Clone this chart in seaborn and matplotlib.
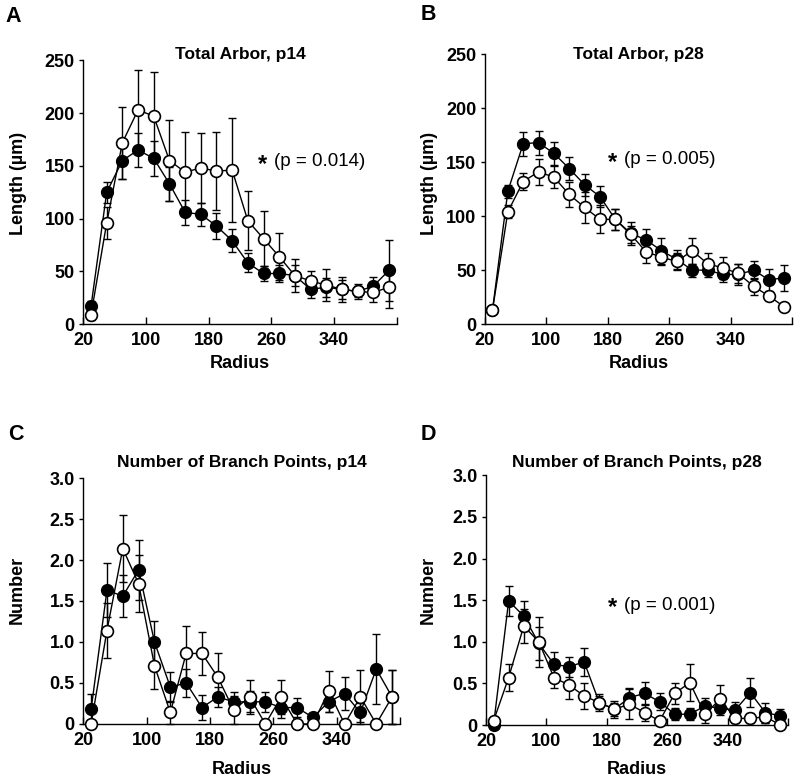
import matplotlib
matplotlib.use("Agg")
import matplotlib.pyplot as plt
import seaborn as sns
import pandas as pd
from matplotlib.ticker import FixedLocator, FixedFormatter

sns.set_style("ticks")
plt.rcParams['font.family'] = ['Liberation Sans', 'DejaVu Sans']
plt.rcParams['text.color'] = 'black'
plt.rcParams['axes.labelcolor'] = 'black'
plt.rcParams['xtick.color'] = 'black'
plt.rcParams['ytick.color'] = 'black'
plt.rcParams['axes.edgecolor'] = 'black'

radius = [30, 50, 70, 90, 110, 130, 150, 170, 190, 210,
          230, 250, 270, 290, 310, 330, 350, 370, 390, 410]

# Panel A: Total Arbor, p14
a_filled = [17, 125, 155, 165, 157, 133, 106, 104, 93, 79, 58, 48, 48, 46, 33, 35, 33, 31, 36, 51]
a_filled_err = [5, 10, 17, 16, 17, 16, 12, 11, 12, 11, 9, 7, 8, 10, 8, 9, 9, 5, 9, 29]
a_open = [9, 96, 172, 203, 197, 155, 144, 148, 145, 146, 98, 81, 64, 46, 41, 37, 33, 31, 30, 35]
a_open_err = [5, 15, 34, 38, 42, 38, 38, 33, 37, 49, 28, 26, 22, 16, 9, 15, 12, 7, 9, 20]

# Panel B: Total Arbor, p28
b_filled = [13, 123, 167, 168, 158, 144, 129, 118, 97, 84, 78, 68, 60, 50, 50, 46, 46, 50, 41, 43]
b_filled_err = [2, 6, 11, 11, 11, 11, 10, 10, 10, 11, 10, 12, 9, 6, 6, 7, 10, 8, 10, 12]
b_open = [13, 104, 132, 141, 136, 120, 108, 97, 97, 83, 67, 62, 58, 68, 56, 52, 47, 35, 26, 16]
b_open_err = [2, 6, 8, 12, 10, 12, 14, 13, 10, 8, 10, 7, 8, 12, 10, 10, 9, 8, 4, 3]

# Panel C: Number of Branch Points, p14
c_filled = [0.18, 1.63, 1.56, 1.88, 1.00, 0.45, 0.50, 0.20, 0.33, 0.27,
            0.27, 0.27, 0.20, 0.20, 0.08, 0.27, 0.37, 0.14, 0.67, 0.33]
c_filled_err = [0.18, 0.33, 0.26, 0.37, 0.26, 0.18, 0.17, 0.15, 0.12, 0.12,
                0.13, 0.12, 0.13, 0.12, 0.05, 0.12, 0.20, 0.12, 0.43, 0.33]
c_open = [0.00, 1.14, 2.14, 1.71, 0.71, 0.14, 0.86, 0.86, 0.57, 0.17,
          0.33, 0.00, 0.33, 0.00, 0.00, 0.40, 0.00, 0.33, 0.00, 0.33]
c_open_err = [0.00, 0.33, 0.41, 0.35, 0.28, 0.14, 0.33, 0.26, 0.30, 0.17,
              0.21, 0.00, 0.21, 0.00, 0.00, 0.25, 0.00, 0.33, 0.00, 0.33]

# Panel D: Number of Branch Points, p28
d_filled = [0.00, 1.49, 1.31, 0.98, 0.73, 0.70, 0.76, 0.27, 0.19, 0.33,
            0.38, 0.28, 0.13, 0.13, 0.23, 0.20, 0.18, 0.39, 0.15, 0.11]
d_filled_err = [0.00, 0.18, 0.18, 0.20, 0.15, 0.12, 0.17, 0.10, 0.10, 0.12,
                0.14, 0.10, 0.07, 0.07, 0.10, 0.08, 0.10, 0.17, 0.12, 0.08]
d_open = [0.05, 0.57, 1.19, 1.00, 0.57, 0.48, 0.35, 0.27, 0.19, 0.25,
          0.15, 0.05, 0.38, 0.51, 0.13, 0.31, 0.08, 0.08, 0.10, 0.00]
d_open_err = [0.00, 0.16, 0.20, 0.30, 0.12, 0.17, 0.16, 0.08, 0.08, 0.18,
              0.10, 0.05, 0.13, 0.22, 0.10, 0.17, 0.05, 0.06, 0.07, 0.00]

x_ticks = [20, 100, 180, 260, 340, 420]
x_ticklabels = ['20', '100', '180', '260', '340', '']
len_ticks = [0, 50, 100, 150, 200, 250]
len_ticklabels = ['0', '50', '100', '150', '200', '250']
num_ticks = [0, 0.5, 1.0, 1.5, 2.0, 2.5, 3.0]
num_ticklabels = ['0', '0.5', '1.0', '1.5', '2.0', '2.5', '3.0']

fig = plt.figure(figsize=(8.0, 7.83), dpi=100)

panels = [
    dict(rect=[0.104, 0.586, 0.392, 0.337], letter='A', title='Total Arbor, p14',
         filled=a_filled, ferr=a_filled_err, open=a_open, oerr=a_open_err,
         ylim=(0, 250), yt=len_ticks, ytl=len_ticklabels, ylabel='Length (µm)',
         note='(p = 0.014)', note_xy=(262, 162), title_y=55,
         letter_xy=(13, 16), ylab_x=19, ylab_y=183, xlab_y=363),
    dict(rect=[0.606, 0.586, 0.384, 0.345], letter='B', title='Total Arbor, p28',
         filled=b_filled, ferr=b_filled_err, open=b_open, oerr=b_open_err,
         ylim=(0, 250), yt=len_ticks, ytl=len_ticklabels, ylabel='Length (µm)',
         note='(p = 0.005)', note_xy=(612, 160), title_y=55,
         letter_xy=(428, 15), ylab_x=430, ylab_y=183, xlab_y=363),
    dict(rect=[0.104, 0.0754, 0.396, 0.3141], letter='C', title='Number of Branch Points, p14',
         filled=c_filled, ferr=c_filled_err, open=c_open, oerr=c_open_err,
         ylim=(0, 3.0), yt=num_ticks, ytl=num_ticklabels, ylabel='Number',
         note=None, note_xy=None, title_y=462,
         letter_xy=(16, 435), ylab_x=17, ylab_y=590, xlab_y=770),
    dict(rect=[0.6075, 0.074, 0.3775, 0.319], letter='D', title='Number of Branch Points, p28',
         filled=d_filled, ferr=d_filled_err, open=d_open, oerr=d_open_err,
         ylim=(0, 3.0), yt=num_ticks, ytl=num_ticklabels, ylabel='Number',
         note='(p = 0.001)', note_xy=(612, 605), title_y=462,
         letter_xy=(428, 435), ylab_x=428, ylab_y=590, xlab_y=770),
]

W, H = 800.0, 783.0

for p in panels:
    ax = fig.add_axes(p['rect'])
    df = pd.DataFrame({'radius': radius, 'filled': p['filled'], 'open': p['open']})

    ax.errorbar(radius, p['filled'], yerr=p['ferr'], fmt='none', ecolor='black',
                elinewidth=1.0, capsize=3, capthick=1.0, zorder=2)
    ax.errorbar(radius, p['open'], yerr=p['oerr'], fmt='none', ecolor='black',
                elinewidth=1.0, capsize=3, capthick=1.0, zorder=2)
    sns.lineplot(data=df, x='radius', y='filled', ax=ax, color='black', linewidth=1.0,
                 marker='o', markersize=8.5, markerfacecolor='black',
                 markeredgecolor='black', markeredgewidth=1.0, zorder=3)
    sns.lineplot(data=df, x='radius', y='open', ax=ax, color='black', linewidth=1.0,
                 marker='o', markersize=8.5, markerfacecolor='white',
                 markeredgecolor='black', markeredgewidth=1.2, zorder=4)

    ax.set_xlim(20, 420)
    ax.set_ylim(*p['ylim'])
    ax.xaxis.set_major_locator(FixedLocator(x_ticks))
    ax.xaxis.set_major_formatter(FixedFormatter(x_ticklabels))
    ax.yaxis.set_major_locator(FixedLocator(p['yt']))
    ax.yaxis.set_major_formatter(FixedFormatter(p['ytl']))
    ax.tick_params(axis='x', direction='in', length=5, width=1.0, pad=6,
                   labelsize=13, colors='black')
    ax.tick_params(axis='y', direction='out', length=3, width=1.0, pad=3,
                   labelsize=13, colors='black')
    for lab in ax.get_xticklabels() + ax.get_yticklabels():
        lab.set_fontweight('bold')
    for s in ['top', 'right']:
        ax.spines[s].set_visible(False)
    for s in ['left', 'bottom']:
        ax.spines[s].set_linewidth(1.0)
        ax.spines[s].set_color('black')
    ax.set_xlabel('')
    ax.set_ylabel('')
    for art in ax.lines + ax.collections:
        art.set_clip_on(False)

    l, b, w, h = p['rect']
    cx = l + w / 2
    fig.text(cx, 1 - p['title_y'] / H, p['title'], ha='center', va='center',
             fontsize=12.5, fontweight='bold', color='black')
    fig.text(p['letter_xy'][0] / W, 1 - p['letter_xy'][1] / H, p['letter'],
             ha='center', va='center', fontsize=15.5, fontweight='bold', color='black')
    fig.text(p['ylab_x'] / W, 1 - p['ylab_y'] / H, p['ylabel'], ha='center',
             va='center', rotation=90, fontsize=13, fontweight='bold', color='black')
    fig.text(cx, 1 - p['xlab_y'] / H, 'Radius', ha='center', va='center',
             fontsize=13, fontweight='bold', color='black')
    if p['note']:
        sx, sy = p['note_xy']
        fig.text(sx / W, 1 - (sy + 3) / H, '*', ha='center', va='center',
                 fontsize=17, fontweight='bold', color='black')
        fig.text((sx + 12) / W, 1 - sy / H, p['note'], ha='left', va='center',
                 fontsize=13.5, color='black')

fig.savefig('out.png', dpi=100)
